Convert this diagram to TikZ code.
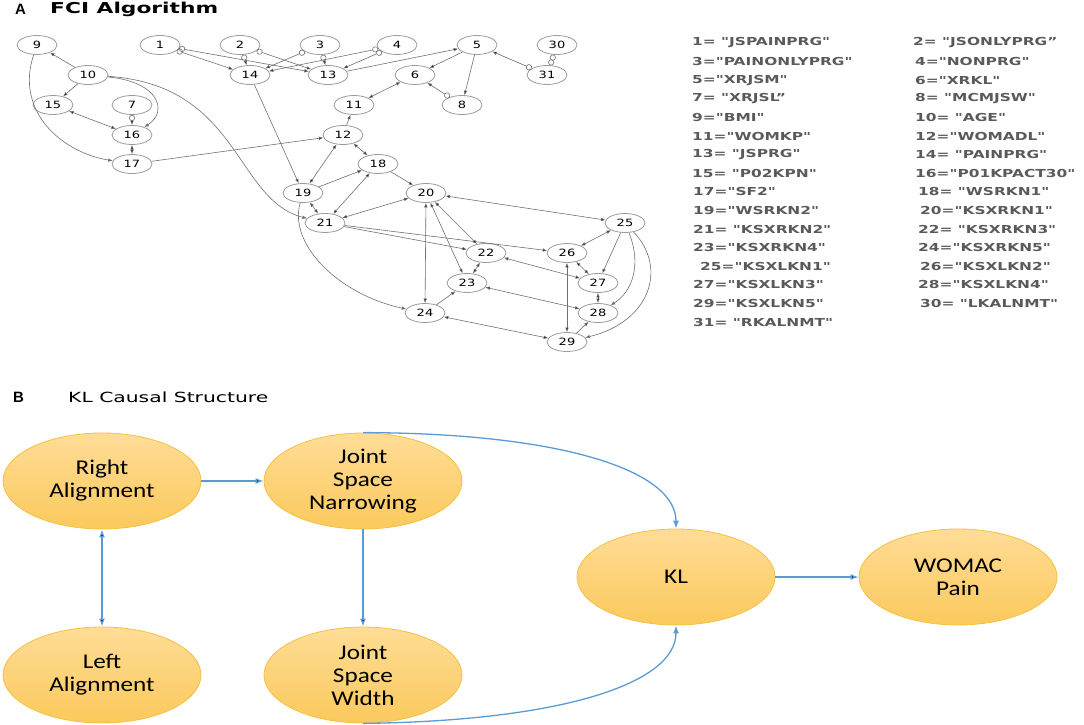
\documentclass[tikz,border=0pt]{standalone}
\usepackage{fontspec}
\usetikzlibrary{arrows.meta,shapes.geometric}
\newfontfamily\pagfont{DejaVu Sans}[FakeStretch=1.3]
\newfontfamily\legendfont{DejaVu Sans}[FakeStretch=1.4]
\newfontfamily\titlefont{DejaVu Sans}[FakeStretch=1.45]
\newfontfamily\boxfont{Carlito}[FakeStretch=1.2]
\newfontfamily\letterfont{Liberation Sans}
\definecolor{edgegray}{HTML}{707070}
\definecolor{nodegray}{HTML}{9A9A9A}
\definecolor{legendgray}{HTML}{5A5A5A}
\definecolor{causeblue}{HTML}{5B9BD5}
\definecolor{causetop}{HTML}{FFDD97}
\definecolor{causebottom}{HTML}{FBC95C}
\definecolor{causeline}{HTML}{F6C143}

\begin{document}
\begin{tikzpicture}[x=1pt, y=-1pt,
    pag node/.style={ellipse, draw=nodegray, line width=0.8pt, minimum width=40pt, minimum height=19pt, inner sep=0pt, font=\pagfont\fontsize{10}{12}\selectfont},
    pa/.style={draw=edgegray, line width=0.6pt, arrows={-Latex[length=4.5pt,width=3.5pt]}},
    pb/.style={draw=edgegray, line width=0.6pt, arrows={Latex[length=4.5pt,width=3.5pt]-Latex[length=4.5pt,width=3.5pt]}},
    po/.style={draw=edgegray, line width=0.6pt, arrows={Circle[open,length=6pt,width=6pt]-Latex[length=4.5pt,width=3.5pt]}},
    pc/.style={draw=edgegray, line width=0.6pt, arrows={Circle[open,length=6pt,width=6pt]-Circle[open,length=6pt,width=6pt]}},
    legend/.style={anchor=west, inner sep=0pt, text=legendgray, font=\legendfont\bfseries\fontsize{11}{13}\selectfont},
    cause node/.style={ellipse, draw=causeline, line width=0.8pt, top color=causetop, bottom color=causebottom, minimum width=198pt, minimum height=96pt, inner sep=0pt},
    cause text/.style={align=center, font=\boxfont\fontsize{21}{23}\selectfont},
    cause edge/.style={draw=causeblue, line width=1.3pt, arrows={-Latex[length=8pt,width=6pt]}},
    title/.style={anchor=west, inner sep=0pt, font=\titlefont\fontsize{14}{17}\selectfont},
    tag/.style={anchor=west, inner sep=0pt, font=\letterfont\bfseries\fontsize{15}{18}\selectfont}]

                        \useasboundingbox (0,0) rectangle (1084,725);

                        \node[tag] at (15,9) (taga) {A};
                        \node[title, font=\titlefont\bfseries\fontsize{15}{18}\selectfont] at (50,9) (titlea) {FCI Algorithm};
                        \node[tag] at (13,397) (tagb) {B};
                        \node[title] at (68,397) (titleb) {KL Causal Structure};

                        \node[pag node] at (37, 45) (n9) {9};
                        \node[pag node] at (160, 45) (n1) {1};
                        \node[pag node] at (240, 45) (n2) {2};
                        \node[pag node] at (320, 45) (n3) {3};
                        \node[pag node] at (397, 45) (n4) {4};
                        \node[pag node] at (477, 45) (n5) {5};
                        \node[pag node] at (557, 45) (n30) {30};
                        \node[pag node] at (88, 75) (n10) {10};
                        \node[pag node] at (250, 75) (n14) {14};
                        \node[pag node] at (328, 75) (n13) {13};
                        \node[pag node] at (415, 75) (n6) {6};
                        \node[pag node] at (547, 75) (n31) {31};
                        \node[pag node] at (53, 105) (n15) {15};
                        \node[pag node] at (132, 105) (n7) {7};
                        \node[pag node] at (354, 105) (n11) {11};
                        \node[pag node] at (462, 105) (n8) {8};
                        \node[pag node] at (132, 135) (n16) {16};
                        \node[pag node] at (343, 135) (n12) {12};
                        \node[pag node] at (132, 164) (n17) {17};
                        \node[pag node] at (378, 164) (n18) {18};
                        \node[pag node] at (303, 193) (n19) {19};
                        \node[pag node] at (426, 193) (n20) {20};
                        \node[pag node] at (325, 223) (n21) {21};
                        \node[pag node] at (625, 223) (n25) {25};
                        \node[pag node] at (486, 253) (n22) {22};
                        \node[pag node] at (567, 253) (n26) {26};
                        \node[pag node] at (467, 283) (n23) {23};
                        \node[pag node] at (598, 283) (n27) {27};
                        \node[pag node] at (425, 313) (n24) {24};
                        \node[pag node] at (598, 313) (n28) {28};
                        \node[pag node] at (567, 342) (n29) {29};

                        \path[po] (n1) edge (n14) (n1) edge (n13);
                        \path[po] (n2) edge (n14) (n2) edge (n13);
                        \path[po] (n3) edge (n14) (n3) edge (n13);
                        \path[po] (n4) edge (n14) (n4) edge (n13);
                        \path[po] (n31) edge (n5) (n8) edge (n6) (n7) edge (n16);
                        \path[pc] (n30) edge (n31);

                        \path[pa] (n13) edge (n5) (n5) edge (n6) (n5) edge (n8);
                        \path[pa] (n12) edge (n11) (n17) edge (n12) (n14) edge (n19);
                        \path[pa] (n19) edge (n18) (n18) edge (n20);
                        \path[pa] (n10) edge (n9) (n10) edge (n15);
                        \path[pa] (n21) edge (n22) (n21) edge (n26) (n24) edge (n23);
                        \path[pa] (n25) edge (n27) (n29) edge (n28);

                        \path[pb] (n6) edge (n11) (n12) edge (n18) (n12) edge (n19);
                        \path[pb] (n18) edge (n21) (n19) edge (n21) (n20) edge (n21);
                        \path[pb] (n20) edge (n25) (n20) edge (n22) (n20) edge (n23) (n20) edge (n24);
                        \path[pb] (n22) edge (n23) (n22) edge (n27) (n23) edge (n28) (n24) edge (n29);
                        \path[pb] (n15) edge (n16) (n16) edge (n17);
                        \path[pb] (n25) edge (n26) (n26) edge (n27) (n26) edge (n29) (n27) edge (n28);

                        \draw[pa] (n10) .. controls (240,85) and (235,200) .. (n21);
                        \draw[pa] (n10) .. controls (160,82) and (168,112) .. (n16);
                        \draw[pa] (n9) .. controls (15,110) and (60,152) .. (n17);
                        \draw[pa] (n19) .. controls (288,245) and (340,295) .. (n24);
                        \draw[pa] (n25) .. controls (642,265) and (632,292) .. (n28);
                        \draw[pa] (n25) .. controls (668,268) and (650,322) .. (n29);

                        \node[legend] at (692, 43) (l1) {1= "JSPAINPRG"};
                        \node[legend] at (692, 61.6) (l3) {3="PAINONLYPRG"};
                        \node[legend] at (692, 80.2) (l5) {5="XRJSM"};
                        \node[legend] at (692, 98.8) (l7) {7= "XRJSL”};
                        \node[legend] at (692, 117.4) (l9) {9="BMI"};
                        \node[legend] at (692, 136) (l11) {11="WOMKP"};
                        \node[legend] at (692, 154.6) (l13) {13= "JSPRG"};
                        \node[legend] at (692, 173.2) (l15) {15= "P02KPN"};
                        \node[legend] at (693, 191.8) (l17) {17="SF2"};
                        \node[legend] at (693, 210.4) (l19) {19="WSRKN2"};
                        \node[legend] at (693, 229) (l21) {21= "KSXRKN2"};
                        \node[legend] at (693, 247.6) (l23) {23="KSXRKN4"};
                        \node[legend] at (700, 266.2) (l25) {25="KSXLKN1"};
                        \node[legend] at (693, 284.8) (l27) {27="KSXLKN3"};
                        \node[legend] at (693, 303.4) (l29) {29="KSXLKN5"};
                        \node[legend] at (693, 322) (l31) {31= "RKALNMT"};

                        \node[legend] at (913, 43) (l2) {2= "JSONLYPRG”};
                        \node[legend] at (915, 61.6) (l4) {4="NONPRG"};
                        \node[legend] at (915, 80.2) (l6) {6="XRKL"};
                        \node[legend] at (915, 98.8) (l8) {8= "MCMJSW"};
                        \node[legend] at (915, 117.4) (l10) {10= "AGE"};
                        \node[legend] at (915, 136) (l12) {12="WOMADL"};
                        \node[legend] at (915, 154.6) (l14) {14= "PAINPRG"};
                        \node[legend] at (915, 173.2) (l16) {16="P01KPACT30"};
                        \node[legend] at (918, 191.8) (l18) {18= "WSRKN1"};
                        \node[legend] at (920, 210.4) (l20) {20="KSXRKN1"};
                        \node[legend] at (918, 229) (l22) {22= "KSXRKN3"};
                        \node[legend] at (918, 247.6) (l24) {24="KSXRKN5"};
                        \node[legend] at (920, 266.2) (l26) {26="KSXLKN2"};
                        \node[legend] at (918, 284.8) (l28) {28="KSXLKN4"};
                        \node[legend] at (920, 303.4) (l30) {30= "LKALNMT"};

                        \node[cause node, label={[cause text]center:{Right\\Alignment}}] at (102, 481) (ra) {};
                        \node[cause node, label={[cause text]center:{Joint\\Space\\Narrowing}}] at (363, 481) (jsn) {};
                        \node[cause node, label={[cause text]center:{Left\\Alignment}}] at (102, 675) (la) {};
                        \node[cause node, label={[cause text]center:{Joint\\Space\\Width}}] at (363, 675) (jsw) {};
                        \node[cause node, label={[cause text]center:{KL}}] at (676, 577) (kl) {};
                        \node[cause node, label={[cause text]center:{WOMAC\\Pain}}] at (958, 577) (wp) {};

                        \path[cause edge] (ra) edge (jsn) (jsn) edge (jsw) (kl) edge (wp);
                        \path[cause edge, arrows={Latex[length=8pt,width=6pt]-Latex[length=8pt,width=6pt]}] (ra) edge (la);
                        \draw[cause edge] (jsn.north) .. controls (560,433) and (676,470) .. (kl.north);
                        \draw[cause edge] (jsw.south) .. controls (560,721) and (676,684) .. (kl.south);

                    \end{tikzpicture}
\end{document}
